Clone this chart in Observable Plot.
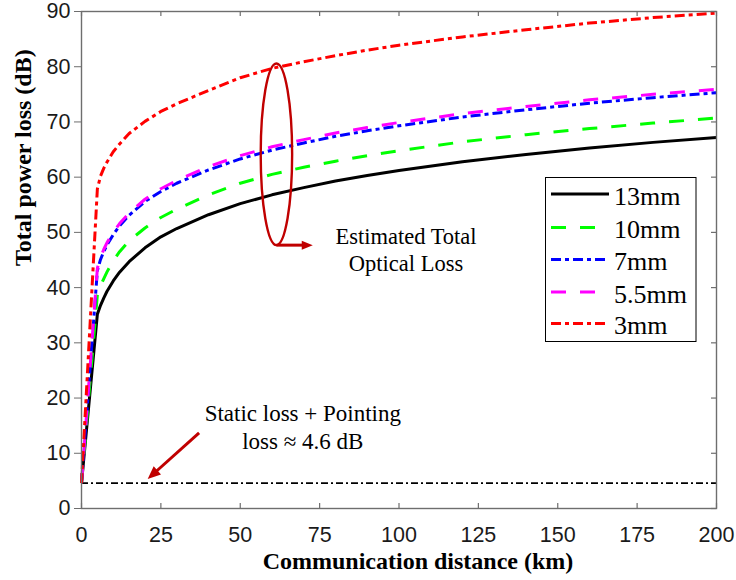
<!DOCTYPE html>
<html><head><meta charset="utf-8">
<script src="https://cdn.jsdelivr.net/npm/d3@7"></script>
<script src="https://cdn.jsdelivr.net/npm/@observablehq/plot@0.6"></script>
<style>body{margin:0;background:#fff} svg{display:block}</style>
</head><body><div id="chart"></div>
<script>
// ---- data ----
const distance = [0,5,6,7,8,10,12,15,20,25,30,40,50,60,70,80,90,100,120,140,160,180,200];
const loss13mm  = [4.6,35.2,36.8,38.1,39.3,41.2,42.8,44.7,47.2,49.2,50.7,53.2,55.2,56.8,58.1,59.3,60.3,61.2,62.8,64.1,65.3,66.3,67.2];
const loss10mm  = [4.6,38.7,40.3,41.6,42.8,44.9,46.5,48.5,50.8,52.7,54.2,56.8,58.9,60.5,61.8,62.9,63.9,64.8,66.4,67.7,68.8,69.8,70.7];
const loss7mm   = [4.6,43.1,45.1,46.5,47.7,49.6,51.2,53.1,55.6,57.4,58.9,61.3,63.3,64.9,66.2,67.4,68.4,69.3,70.9,72.2,73.4,74.4,75.3];
const loss5_5mm = [4.6,43.5,45.5,46.9,48.1,50.0,51.6,53.5,56.0,57.9,59.4,61.9,63.9,65.5,66.8,68.0,69.0,69.9,71.5,72.8,74.0,75.0,75.9];
const loss3mm   = [4.6,57.9,60.2,61.6,62.7,64.6,66.0,67.9,70.1,71.9,73.3,75.7,78.0,79.7,80.9,82.0,83.0,83.9,85.4,86.7,87.9,88.9,89.7];
const seriesNames  = ["13mm","10mm","7mm","5.5mm","3mm"];
const seriesValues = [loss13mm, loss10mm, loss7mm, loss5_5mm, loss3mm];
const seriesColors = ["#000000","#00ff00","#0000ff","#ff00ff","#ff0000"];
const seriesDash   = [null,"15,14","10,4,4,4","15,14","10,4,4,4"];
const staticLoss = 4.6;
const xTicks = [0,25,50,75,100,125,150,175,200];
const yTicks = [0,10,20,30,40,50,60,70,80,90];
const xTitle = "Communication distance (km)";
const yTitle = "Total power loss (dB)";
const noteStatic = "Static loss + Pointing\nloss \u2248 4.6 dB";
const noteTotal = "Estimated Total\nOptical Loss";

const rows = seriesNames.flatMap((name, i) =>
  distance.map((d, j) => ({series: name, d, v: seriesValues[i][j]})));

const W = 736, H = 580, mL = 81, mR = 20, mT = 11, mB = 72;
const fw = W - mL - mR, fh = H - mT - mB;
const axisGray = "#6e6e6e";
const annot = "#c00000";
const sans = "'Liberation Sans', Arial, sans-serif";
const serif = "'Liberation Serif', 'Times New Roman', serif";

const plot = Plot.plot({
  width: W, height: H,
  marginLeft: mL, marginRight: mR, marginTop: mT, marginBottom: mB,
  style: {fontFamily: serif, background: "#fff"},
  x: {domain: [0, 200], axis: null},
  y: {domain: [0, 90]},
  marks: [
    Plot.ruleY([staticLoss], {stroke: "#000", strokeWidth: 1.6, strokeDasharray: "7,3,2,3"}),
    ...seriesNames.map((name, i) => Plot.line(rows.filter(r => r.series === name), {
      x: "d", y: "v", stroke: seriesColors[i], strokeWidth: 3,
      strokeDasharray: seriesDash[i] || undefined, strokeLinecap: "butt", strokeLinejoin: "round"
    })),
    Plot.frame({stroke: axisGray, strokeWidth: 1.4}),
    // inward ticks: bottom, top, right
    Plot.tickX(xTicks, {x: d => d, stroke: axisGray, strokeWidth: 1.2, insetTop: fh - 5}),
    Plot.tickX(xTicks, {x: d => d, stroke: axisGray, strokeWidth: 1.2, insetBottom: fh - 5}),
    Plot.tickY(yTicks, {y: d => d, stroke: axisGray, strokeWidth: 1.2, insetLeft: fw - 5}),
    // x tick labels
    Plot.text(xTicks, {x: d => d, text: d => String(d), frameAnchor: "bottom", lineAnchor: "middle",
      dy: 26.5, fontSize: 21.5, fontFamily: sans, fill: "#1a1a1a"}),
    Plot.axisY({ticks: yTicks, tickSize: 7, tickPadding: 4, fontSize: 21.5, label: null,
      stroke: axisGray, fontFamily: sans, fill: "#1a1a1a", tickFormat: d => d}),
    Plot.text([xTitle], {frameAnchor: "bottom", lineAnchor: "middle", dx: 19, dy: 53,
      fontSize: 24, fontWeight: "bold", fill: "#000"}),
    Plot.text([yTitle], {frameAnchor: "left", lineAnchor: "middle", rotate: -90, dx: -58, dy: 6,
      fontSize: 24, fontWeight: "bold", fill: "#000"}),
    Plot.text([noteTotal], {x: 102.2, y: 47.0, fontSize: 22.5, lineHeight: 1.2, fill: "#000"}),
    Plot.text([noteStatic], {x: 69.7, y: 14.9, fontSize: 23, lineHeight: 1.22, fill: "#000"})
  ]
});
document.getElementById("chart").append(plot);

// ---- annotation shapes placed through the scales ----
const sx = plot.scale("x"), sy = plot.scale("y");
const svg = d3.select(plot);
const g = svg.append("g");
const ex0 = sx.apply(56.6), ex1 = sx.apply(66.5), ey0 = sy.apply(80.5), ey1 = sy.apply(47.6);
g.append("ellipse").attr("cx", (ex0 + ex1) / 2).attr("cy", (ey0 + ey1) / 2)
  .attr("rx", (ex1 - ex0) / 2).attr("ry", (ey1 - ey0) / 2)
  .attr("fill", "none").attr("stroke", annot).attr("stroke-width", 2.4);

function arrow(x1, y1, x2, y2, len, wid) {
  const dx = x2 - x1, dy = y2 - y1, L = Math.hypot(dx, dy), ux = dx / L, uy = dy / L;
  const bx = x2 - ux * len, by = y2 - uy * len;
  g.append("line").attr("x1", x1).attr("y1", y1).attr("x2", bx + ux).attr("y2", by + uy)
    .attr("stroke", annot).attr("stroke-width", 3);
  g.append("polygon").attr("points",
    `${x2},${y2} ${bx - uy * wid / 2},${by + ux * wid / 2} ${bx + uy * wid / 2},${by - ux * wid / 2}`)
    .attr("fill", annot);
}
arrow(sx.apply(61.55), sy.apply(47.6), sx.apply(73.0), sy.apply(47.6), 11, 9);
arrow(sx.apply(37.2), sy.apply(13.6), sx.apply(21.0), sy.apply(5.25), 13, 11);

// ---- legend ----
const lg = svg.append("g");
lg.append("rect").attr("x", 545.5).attr("y", 177.5).attr("width", 150.5).attr("height", 164)
  .attr("fill", "#fff").attr("stroke", "#000").attr("stroke-width", 1);
const rowY = [194, 227.5, 259.5, 292, 323.5];
seriesNames.forEach((name, i) => {
  const l = lg.append("line").attr("x1", 551).attr("x2", 609).attr("y1", rowY[i]).attr("y2", rowY[i])
    .attr("stroke", seriesColors[i]).attr("stroke-width", 3);
  if (seriesDash[i]) l.attr("stroke-dasharray", seriesDash[i]);
  lg.append("text").attr("x", 614).attr("y", rowY[i] + 10.5).attr("font-size", 26)
    .attr("text-anchor", "start")
    .attr("font-family", serif).attr("fill", "#000").text(name);
});
</script>
</body></html>
